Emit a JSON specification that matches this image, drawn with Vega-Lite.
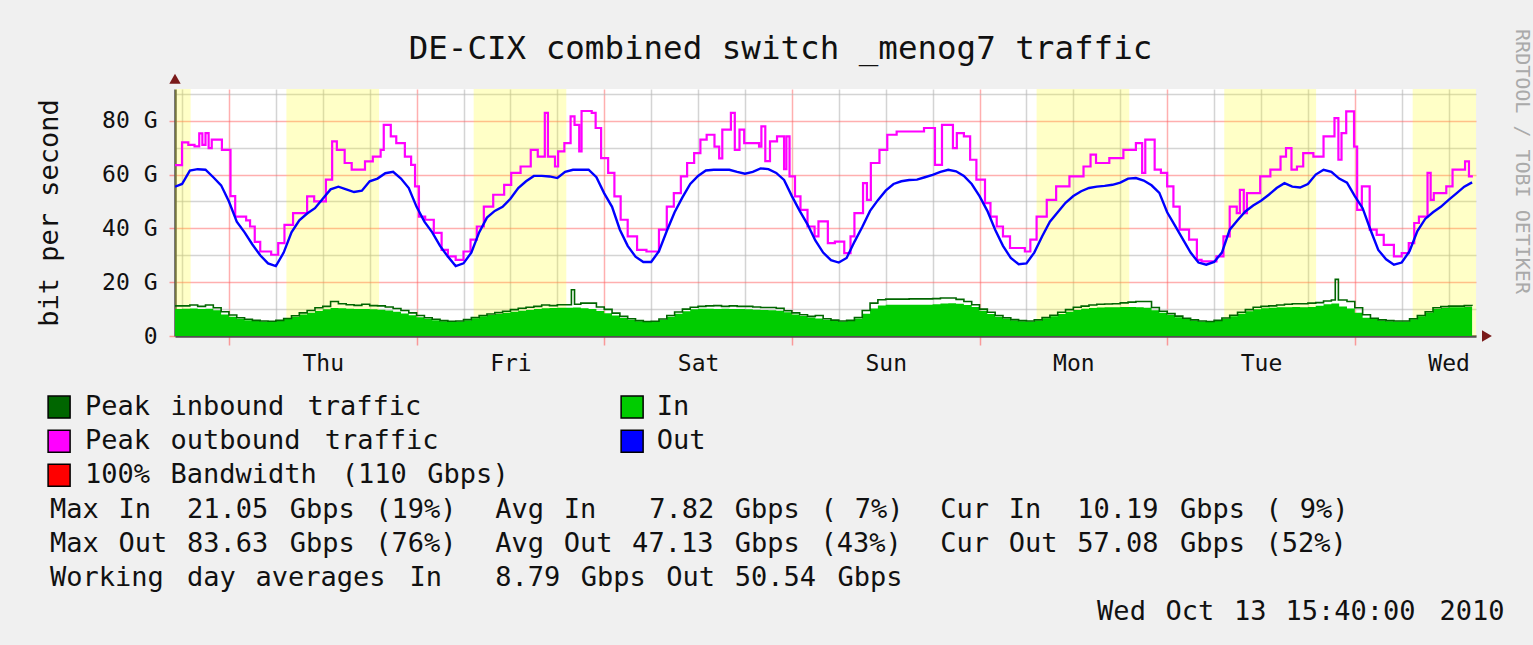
{
  "$schema": "https://vega.github.io/schema/vega-lite/v6.json",
  "background": "#f0f0f0",
  "padding": {"left": 35, "top": 28, "right": 10, "bottom": 20},
  "config": {"font": "DejaVu Sans Mono", "view": {"stroke": null}},
  "spacing": 15,
  "datasets": {
    "bands": [{"s":-6.9,"e":-4.9},{"s":7.35,"e":19.2},{"s":31.3,"e":43.15},{"s":103.3,"e":115.15},{"s":127.3,"e":139.05},{"s":151.4,"e":159.5}],
    "inb": [{"t":-6.9,"v":10.0},{"t":-6,"v":10.1},{"t":-5,"v":10.2},{"t":-4,"v":10.0},{"t":-3,"v":10.1},{"t":-2,"v":9.6},{"t":-1,"v":8.0},{"t":0,"v":7.2},{"t":1,"v":6.4},{"t":2,"v":5.9},{"t":3,"v":5.6},{"t":4,"v":5.4},{"t":5,"v":5.3},{"t":6,"v":5.6},{"t":7,"v":6.3},{"t":8,"v":7.2},{"t":9,"v":8.0},{"t":10,"v":8.6},{"t":11,"v":9.3},{"t":12,"v":9.9},{"t":13,"v":10.4},{"t":14,"v":10.3},{"t":15,"v":10.1},{"t":16,"v":10.0},{"t":17,"v":10.0},{"t":18,"v":9.9},{"t":19,"v":9.8},{"t":20,"v":9.5},{"t":21,"v":9.0},{"t":22,"v":8.4},{"t":23,"v":7.7},{"t":24,"v":7.0},{"t":25,"v":6.4},{"t":26,"v":5.9},{"t":27,"v":5.5},{"t":28,"v":5.3},{"t":29,"v":5.4},{"t":30,"v":5.9},{"t":31,"v":6.6},{"t":32,"v":7.3},{"t":33,"v":7.8},{"t":34,"v":8.2},{"t":35,"v":8.6},{"t":36,"v":9.0},{"t":37,"v":9.4},{"t":38,"v":9.7},{"t":39,"v":10.0},{"t":40,"v":10.3},{"t":41,"v":10.4},{"t":42,"v":10.5},{"t":43,"v":10.5},{"t":44,"v":10.6},{"t":45,"v":10.3},{"t":46,"v":10.0},{"t":47,"v":9.3},{"t":48,"v":8.5},{"t":49,"v":7.6},{"t":50,"v":6.7},{"t":51,"v":6.0},{"t":52,"v":5.5},{"t":53,"v":5.2},{"t":54,"v":5.3},{"t":55,"v":6.0},{"t":56,"v":7.2},{"t":57,"v":8.3},{"t":58,"v":9.2},{"t":59,"v":9.9},{"t":60,"v":10.1},{"t":61,"v":10.1},{"t":62,"v":10.0},{"t":63,"v":10.1},{"t":64,"v":10.0},{"t":65,"v":10.0},{"t":66,"v":9.9},{"t":67,"v":9.8},{"t":68,"v":9.7},{"t":69,"v":9.6},{"t":70,"v":9.4},{"t":71,"v":8.8},{"t":72,"v":8.0},{"t":73,"v":7.4},{"t":74,"v":6.9},{"t":75,"v":6.5},{"t":76,"v":6.0},{"t":77,"v":5.6},{"t":78,"v":5.4},{"t":79,"v":5.6},{"t":80,"v":6.5},{"t":81,"v":8.3},{"t":82,"v":10.2},{"t":83,"v":11.3},{"t":84,"v":11.6},{"t":85,"v":11.6},{"t":86,"v":11.6},{"t":87,"v":11.6},{"t":88,"v":11.6},{"t":89,"v":11.6},{"t":90,"v":11.8},{"t":91,"v":12.1},{"t":92,"v":12.2},{"t":93,"v":12.0},{"t":94,"v":11.5},{"t":95,"v":10.8},{"t":96,"v":9.4},{"t":97,"v":8.2},{"t":98,"v":7.2},{"t":99,"v":6.5},{"t":100,"v":5.9},{"t":101,"v":5.5},{"t":102,"v":5.4},{"t":103,"v":5.8},{"t":104,"v":6.6},{"t":105,"v":7.3},{"t":106,"v":8.2},{"t":107,"v":9.0},{"t":108,"v":9.7},{"t":109,"v":10.1},{"t":110,"v":10.4},{"t":111,"v":10.6},{"t":112,"v":10.7},{"t":113,"v":10.7},{"t":114,"v":10.8},{"t":115,"v":10.8},{"t":116,"v":10.7},{"t":117,"v":10.5},{"t":118,"v":9.6},{"t":119,"v":8.6},{"t":120,"v":7.8},{"t":121,"v":7.0},{"t":122,"v":6.3},{"t":123,"v":5.8},{"t":124,"v":5.4},{"t":125,"v":5.2},{"t":126,"v":5.6},{"t":127,"v":6.4},{"t":128,"v":7.3},{"t":129,"v":8.3},{"t":130,"v":9.2},{"t":131,"v":9.9},{"t":132,"v":10.3},{"t":133,"v":10.5},{"t":134,"v":10.7},{"t":135,"v":10.7},{"t":136,"v":10.8},{"t":137,"v":10.7},{"t":138,"v":10.8},{"t":139,"v":11.2},{"t":140,"v":11.8},{"t":141,"v":12.1},{"t":142,"v":11.0},{"t":143,"v":10.2},{"t":144,"v":8.6},{"t":145,"v":6.8},{"t":146,"v":6.3},{"t":147,"v":5.8},{"t":148,"v":5.5},{"t":149,"v":5.4},{"t":150,"v":5.4},{"t":151,"v":6.2},{"t":152,"v":7.3},{"t":153,"v":8.7},{"t":154,"v":10.0},{"t":155,"v":10.4},{"t":156,"v":10.7},{"t":157,"v":10.7},{"t":158,"v":10.8},{"t":159,"v":10.2}],
    "pin": [{"t":-6.9,"v":11.2},{"t":-6,"v":11.2},{"t":-5,"v":11.5},{"t":-4,"v":11.0},{"t":-3,"v":11.5},{"t":-2,"v":10.5},{"t":-1,"v":9.0},{"t":0,"v":7.8},{"t":1,"v":6.8},{"t":2,"v":6.2},{"t":3,"v":5.8},{"t":4,"v":5.6},{"t":5,"v":5.5},{"t":6,"v":5.8},{"t":7,"v":6.5},{"t":8,"v":7.5},{"t":9,"v":8.6},{"t":10,"v":9.5},{"t":11,"v":10.5},{"t":12,"v":11.0},{"t":13,"v":12.8},{"t":14,"v":12.0},{"t":15,"v":11.6},{"t":16,"v":11.4},{"t":17,"v":11.8},{"t":18,"v":11.3},{"t":19,"v":11.2},{"t":20,"v":10.8},{"t":21,"v":10.2},{"t":22,"v":9.5},{"t":23,"v":8.6},{"t":24,"v":7.6},{"t":25,"v":6.8},{"t":26,"v":6.2},{"t":27,"v":5.7},{"t":28,"v":5.5},{"t":29,"v":5.6},{"t":30,"v":6.1},{"t":31,"v":6.9},{"t":32,"v":7.6},{"t":33,"v":8.2},{"t":34,"v":8.7},{"t":35,"v":9.2},{"t":36,"v":9.8},{"t":37,"v":10.3},{"t":38,"v":10.7},{"t":39,"v":11.0},{"t":40,"v":11.5},{"t":41,"v":11.3},{"t":42,"v":11.6},{"t":43,"v":11.6},{"t":43.8,"v":17.2},{"t":44.2,"v":11.8},{"t":45,"v":12.2},{"t":46,"v":12.2},{"t":47,"v":10.8},{"t":48,"v":9.9},{"t":49,"v":8.5},{"t":50,"v":7.3},{"t":51,"v":6.4},{"t":52,"v":5.7},{"t":53,"v":5.4},{"t":54,"v":5.5},{"t":55,"v":6.3},{"t":56,"v":7.6},{"t":57,"v":8.9},{"t":58,"v":10.0},{"t":59,"v":10.7},{"t":60,"v":11.0},{"t":61,"v":11.2},{"t":62,"v":11.3},{"t":63,"v":11.0},{"t":64,"v":11.2},{"t":65,"v":11.0},{"t":66,"v":11.0},{"t":67,"v":10.8},{"t":68,"v":10.6},{"t":69,"v":10.6},{"t":70,"v":10.3},{"t":71,"v":9.4},{"t":72,"v":8.6},{"t":73,"v":7.9},{"t":74,"v":7.3},{"t":75,"v":7.6},{"t":76,"v":6.4},{"t":77,"v":5.9},{"t":78,"v":5.6},{"t":79,"v":5.8},{"t":80,"v":6.9},{"t":81,"v":9.5},{"t":82,"v":12.2},{"t":83,"v":13.5},{"t":84,"v":13.7},{"t":85,"v":13.7},{"t":86,"v":13.7},{"t":87,"v":13.8},{"t":88,"v":13.8},{"t":89,"v":13.8},{"t":90,"v":13.9},{"t":91,"v":14.1},{"t":92,"v":14.1},{"t":93,"v":13.6},{"t":94,"v":12.8},{"t":95,"v":11.6},{"t":96,"v":10.0},{"t":97,"v":8.8},{"t":98,"v":7.6},{"t":99,"v":6.8},{"t":100,"v":6.1},{"t":101,"v":5.7},{"t":102,"v":5.6},{"t":103,"v":6.0},{"t":104,"v":6.9},{"t":105,"v":7.7},{"t":106,"v":8.8},{"t":107,"v":9.8},{"t":108,"v":10.7},{"t":109,"v":11.1},{"t":110,"v":11.5},{"t":111,"v":11.8},{"t":112,"v":11.9},{"t":113,"v":12.0},{"t":114,"v":12.3},{"t":115,"v":12.6},{"t":116,"v":12.8},{"t":117,"v":12.8},{"t":118,"v":10.6},{"t":119,"v":9.2},{"t":120,"v":8.3},{"t":121,"v":7.4},{"t":122,"v":6.6},{"t":123,"v":6.0},{"t":124,"v":5.6},{"t":125,"v":5.4},{"t":126,"v":5.8},{"t":127,"v":6.7},{"t":128,"v":7.7},{"t":129,"v":8.8},{"t":130,"v":9.8},{"t":131,"v":10.7},{"t":132,"v":11.0},{"t":133,"v":11.2},{"t":134,"v":11.5},{"t":135,"v":11.8},{"t":136,"v":12.0},{"t":137,"v":12.0},{"t":138,"v":12.2},{"t":139,"v":12.4},{"t":140,"v":13.0},{"t":141,"v":13.4},{"t":141.5,"v":21.05},{"t":141.9,"v":13.4},{"t":143,"v":12.8},{"t":144,"v":10.5},{"t":145,"v":7.9},{"t":146,"v":6.6},{"t":147,"v":6.0},{"t":148,"v":5.7},{"t":149,"v":5.6},{"t":150,"v":5.6},{"t":151,"v":6.4},{"t":152,"v":7.6},{"t":153,"v":9.0},{"t":154,"v":10.5},{"t":155,"v":10.9},{"t":156,"v":11.1},{"t":157,"v":11.1},{"t":158,"v":11.3},{"t":159,"v":11.2}],
    "pout": [{"t":-6.9,"v":63.5},{"t":-6.0,"v":72},{"t":-5.2,"v":71},{"t":-4.4,"v":70.5},{"t":-3.8,"v":75.3},{"t":-3.4,"v":71},{"t":-3.0,"v":75.4},{"t":-2.6,"v":69.8},{"t":-2.2,"v":73},{"t":-1.2,"v":73},{"t":-0.9,"v":69.2},{"t":0.2,"v":52},{"t":0.8,"v":44.4},{"t":2.2,"v":43},{"t":2.7,"v":40.7},{"t":3.3,"v":35},{"t":4.0,"v":31.4},{"t":5.4,"v":30.2},{"t":6.3,"v":34.5},{"t":7.1,"v":41.3},{"t":8.2,"v":45.7},{"t":10.0,"v":51.9},{"t":10.9,"v":50},{"t":12.4,"v":58.1},{"t":13.2,"v":72.3},{"t":13.8,"v":69.2},{"t":14.8,"v":64.3},{"t":15.7,"v":61.8},{"t":17.4,"v":64.9},{"t":18.4,"v":66.7},{"t":19.4,"v":69.2},{"t":19.8,"v":78.5},{"t":20.7,"v":74.2},{"t":21.4,"v":71.7},{"t":22.5,"v":66.7},{"t":23.3,"v":63.6},{"t":23.8,"v":55.6},{"t":24.3,"v":44.4},{"t":25.1,"v":43.2},{"t":26.2,"v":38.3},{"t":27.2,"v":32},{"t":28.0,"v":29.6},{"t":29.0,"v":28.3},{"t":30.0,"v":31.4},{"t":30.9,"v":35.8},{"t":31.7,"v":40.7},{"t":32.6,"v":48.1},{"t":33.8,"v":52.5},{"t":35.2,"v":56.2},{"t":36.1,"v":60.6},{"t":37.3,"v":63},{"t":38.6,"v":69.2},{"t":39.5,"v":66.7},{"t":40.4,"v":82.9},{"t":40.8,"v":66.7},{"t":41.7,"v":63},{"t":42.1,"v":68.6},{"t":42.9,"v":71.7},{"t":43.7,"v":81.6},{"t":44.2,"v":78.5},{"t":44.8,"v":68.6},{"t":45.1,"v":83.63},{"t":46.4,"v":82.9},{"t":46.9,"v":77.3},{"t":47.6,"v":66.1},{"t":48.5,"v":60.6},{"t":49.3,"v":51.9},{"t":50.1,"v":43.2},{"t":51.0,"v":37},{"t":52.2,"v":32},{"t":53.4,"v":31.4},{"t":55.0,"v":39.5},{"t":56.0,"v":48.1},{"t":56.9,"v":53.1},{"t":57.8,"v":59.3},{"t":58.6,"v":64.3},{"t":59.5,"v":68},{"t":60.3,"v":73},{"t":61.1,"v":74.8},{"t":62.1,"v":70.4},{"t":62.7,"v":66},{"t":63.1,"v":76.7},{"t":64.2,"v":82.9},{"t":64.7,"v":69.2},{"t":65.3,"v":76.7},{"t":65.9,"v":71.7},{"t":67.8,"v":70.4},{"t":68.1,"v":77.9},{"t":68.6,"v":65},{"t":69.2,"v":72.3},{"t":70.1,"v":74.2},{"t":71.0,"v":62},{"t":71.3,"v":74.2},{"t":71.7,"v":59.3},{"t":72.4,"v":51.9},{"t":73.1,"v":46.9},{"t":74.0,"v":40.7},{"t":74.9,"v":37},{"t":75.4,"v":42.6},{"t":76.6,"v":34.5},{"t":77.5,"v":35.1},{"t":78.7,"v":30.8},{"t":79.5,"v":37},{"t":80.0,"v":45.7},{"t":81.1,"v":56.8},{"t":81.6,"v":50.6},{"t":82.1,"v":64.3},{"t":83.2,"v":69.2},{"t":84.2,"v":74.8},{"t":85.4,"v":76},{"t":88.9,"v":77.3},{"t":90.3,"v":63.6},{"t":91.2,"v":78.5},{"t":92.6,"v":69.8},{"t":93.1,"v":75.4},{"t":94.0,"v":74.2},{"t":94.8,"v":65.5},{"t":95.6,"v":58.1},{"t":96.7,"v":49.4},{"t":97.4,"v":44.4},{"t":98.2,"v":40.7},{"t":99.0,"v":37},{"t":99.9,"v":32.7},{"t":101.8,"v":31.4},{"t":102.5,"v":35.8},{"t":103.3,"v":44.4},{"t":104.6,"v":50.6},{"t":105.8,"v":55.6},{"t":107.5,"v":59.3},{"t":109.3,"v":63},{"t":110.2,"v":67.4},{"t":110.9,"v":64.3},{"t":112.6,"v":66.1},{"t":114.4,"v":69.2},{"t":116.0,"v":71.7},{"t":116.8,"v":60.6},{"t":117.2,"v":73},{"t":118.4,"v":61.8},{"t":119.2,"v":60.6},{"t":120.0,"v":55.6},{"t":120.8,"v":48.1},{"t":121.6,"v":39.5},{"t":122.8,"v":35.8},{"t":123.8,"v":28.3},{"t":124.4,"v":27.7},{"t":126.3,"v":29.6},{"t":127.2,"v":37},{"t":128.0,"v":48.1},{"t":128.9,"v":45.7},{"t":129.3,"v":54.3},{"t":129.8,"v":45.7},{"t":130.2,"v":53.1},{"t":131.9,"v":59.3},{"t":133.2,"v":61.8},{"t":134.5,"v":66.7},{"t":135.2,"v":69.8},{"t":135.9,"v":61.8},{"t":136.6,"v":63},{"t":137.4,"v":68},{"t":138.7,"v":66.7},{"t":140.0,"v":74.2},{"t":141.4,"v":81},{"t":141.9,"v":65.5},{"t":142.3,"v":75.4},{"t":142.9,"v":83.5},{"t":143.9,"v":70.4},{"t":144.3,"v":46.9},{"t":144.9,"v":55.6},{"t":145.9,"v":39.5},{"t":146.8,"v":37.6},{"t":147.7,"v":33.9},{"t":149.0,"v":29.6},{"t":150.0,"v":30.8},{"t":150.9,"v":34.5},{"t":151.6,"v":42},{"t":152.2,"v":44.4},{"t":153.3,"v":60.6},{"t":153.7,"v":50.6},{"t":154.1,"v":53.1},{"t":155.7,"v":55.6},{"t":156.5,"v":61.8},{"t":158.1,"v":64.9},{"t":158.6,"v":59.3},{"t":159.1,"v":59.3}],
    "out": [{"t":-6.9,"v":55.5},{"t":-6,"v":56.5},{"t":-5,"v":61.5},{"t":-4,"v":62},{"t":-3,"v":61.8},{"t":-2,"v":59},{"t":-1,"v":56},{"t":0,"v":50},{"t":1,"v":42.5},{"t":2,"v":38.5},{"t":3,"v":34},{"t":4,"v":30},{"t":5,"v":27},{"t":6,"v":26},{"t":7,"v":31},{"t":8,"v":38.5},{"t":9,"v":43},{"t":10,"v":45.5},{"t":11,"v":47.5},{"t":12,"v":51},{"t":13,"v":54.5},{"t":14,"v":55.5},{"t":15,"v":54.5},{"t":16,"v":53.5},{"t":17,"v":54},{"t":18,"v":57.5},{"t":19,"v":58.5},{"t":20,"v":60.5},{"t":21,"v":61},{"t":22,"v":58.5},{"t":23,"v":55},{"t":24,"v":48},{"t":25,"v":42.5},{"t":26,"v":38.5},{"t":27,"v":33.5},{"t":28,"v":29.5},{"t":29,"v":26},{"t":30,"v":27},{"t":31,"v":31},{"t":32,"v":38.5},{"t":33,"v":44},{"t":34,"v":46.5},{"t":35,"v":48},{"t":36,"v":51},{"t":37,"v":55},{"t":38,"v":57.5},{"t":39,"v":59.5},{"t":40,"v":59.5},{"t":41,"v":59.3},{"t":42,"v":58.7},{"t":43,"v":61},{"t":44,"v":61.8},{"t":45,"v":61.8},{"t":46,"v":61.8},{"t":47,"v":59},{"t":48,"v":53},{"t":49,"v":48},{"t":50,"v":39.5},{"t":51,"v":33.5},{"t":52,"v":29.5},{"t":53,"v":27.5},{"t":54,"v":27.5},{"t":55,"v":31.5},{"t":56,"v":39},{"t":57,"v":46},{"t":58,"v":51.5},{"t":59,"v":56.5},{"t":60,"v":59.5},{"t":61,"v":61.5},{"t":62,"v":61.8},{"t":63,"v":61.8},{"t":64,"v":61.8},{"t":65,"v":61},{"t":66,"v":60.3},{"t":67,"v":61},{"t":68,"v":62.3},{"t":69,"v":62},{"t":70,"v":60.6},{"t":71,"v":58},{"t":72,"v":52},{"t":73,"v":46.5},{"t":74,"v":41.5},{"t":75,"v":35.5},{"t":76,"v":31},{"t":77,"v":28.2},{"t":78,"v":27.3},{"t":79,"v":29},{"t":80,"v":35},{"t":81,"v":40.5},{"t":82,"v":46.5},{"t":83,"v":50.5},{"t":84,"v":54},{"t":85,"v":56.5},{"t":86,"v":57.5},{"t":87,"v":58},{"t":88,"v":58.1},{"t":89,"v":59},{"t":90,"v":59.9},{"t":91,"v":61},{"t":92,"v":61.8},{"t":93,"v":61.2},{"t":94,"v":59.5},{"t":95,"v":56.5},{"t":96,"v":52},{"t":97,"v":46.5},{"t":98,"v":39.5},{"t":99,"v":33.5},{"t":100,"v":29},{"t":101,"v":26.7},{"t":102,"v":27},{"t":103,"v":31},{"t":104,"v":37},{"t":105,"v":42.5},{"t":106,"v":46},{"t":107,"v":49.5},{"t":108,"v":52},{"t":109,"v":53.8},{"t":110,"v":55},{"t":111,"v":55.5},{"t":112,"v":55.8},{"t":113,"v":56.2},{"t":114,"v":57},{"t":115,"v":58.5},{"t":116,"v":58.7},{"t":117,"v":57.8},{"t":118,"v":56},{"t":119,"v":53.2},{"t":120,"v":46},{"t":121,"v":41},{"t":122,"v":36},{"t":123,"v":31},{"t":124,"v":27.3},{"t":125,"v":26.5},{"t":126,"v":27.5},{"t":127,"v":31},{"t":128,"v":39.5},{"t":129,"v":43},{"t":130,"v":46.3},{"t":131,"v":48.5},{"t":132,"v":50.3},{"t":133,"v":52.5},{"t":134,"v":55},{"t":135,"v":56.8},{"t":136,"v":55.5},{"t":137,"v":55.2},{"t":138,"v":56.5},{"t":139,"v":60},{"t":140,"v":61.8},{"t":141,"v":61},{"t":142,"v":58.5},{"t":143,"v":57},{"t":144,"v":52},{"t":145,"v":47.5},{"t":146,"v":39.5},{"t":147,"v":32},{"t":148,"v":28.5},{"t":149,"v":26.5},{"t":150,"v":27.3},{"t":151,"v":31.5},{"t":152,"v":39},{"t":153,"v":43.5},{"t":154,"v":46},{"t":155,"v":48},{"t":156,"v":50.6},{"t":157,"v":53},{"t":158,"v":55.5},{"t":159,"v":57.1}],
    "tokens": [
      {"r":0,"c":2.04,"s":"Peak"},{"r":0,"c":7.04,"s":"inbound"},{"r":0,"c":15.04,"s":"traffic"},{"r":0,"c":35.44,"s":"In"},
      {"r":1,"c":2.04,"s":"Peak"},{"r":1,"c":7.04,"s":"outbound"},{"r":1,"c":16.04,"s":"traffic"},{"r":1,"c":35.44,"s":"Out"},
      {"r":2,"c":2.04,"s":"100%"},{"r":2,"c":7.04,"s":"Bandwidth"},{"r":2,"c":17.04,"s":"(110"},{"r":2,"c":22.04,"s":"Gbps)"},
      {"r":3,"c":0,"s":"Max"},{"r":3,"c":4,"s":"In"},{"r":3,"c":8,"s":"21.05"},{"r":3,"c":14,"s":"Gbps"},{"r":3,"c":19,"s":"(19%)"},{"r":3,"c":26,"s":"Avg"},{"r":3,"c":30,"s":"In"},{"r":3,"c":35,"s":"7.82"},{"r":3,"c":40,"s":"Gbps"},{"r":3,"c":45,"s":"("},{"r":3,"c":47,"s":"7%)"},{"r":3,"c":52,"s":"Cur"},{"r":3,"c":56,"s":"In"},{"r":3,"c":60,"s":"10.19"},{"r":3,"c":66,"s":"Gbps"},{"r":3,"c":71,"s":"("},{"r":3,"c":73,"s":"9%)"},
      {"r":4,"c":0,"s":"Max"},{"r":4,"c":4,"s":"Out"},{"r":4,"c":8,"s":"83.63"},{"r":4,"c":14,"s":"Gbps"},{"r":4,"c":19,"s":"(76%)"},{"r":4,"c":26,"s":"Avg"},{"r":4,"c":30,"s":"Out"},{"r":4,"c":34,"s":"47.13"},{"r":4,"c":40,"s":"Gbps"},{"r":4,"c":45,"s":"(43%)"},{"r":4,"c":52,"s":"Cur"},{"r":4,"c":56,"s":"Out"},{"r":4,"c":60,"s":"57.08"},{"r":4,"c":66,"s":"Gbps"},{"r":4,"c":71,"s":"(52%)"},
      {"r":5,"c":0,"s":"Working"},{"r":5,"c":8,"s":"day"},{"r":5,"c":12,"s":"averages"},{"r":5,"c":21,"s":"In"},{"r":5,"c":26,"s":"8.79"},{"r":5,"c":31,"s":"Gbps"},{"r":5,"c":36,"s":"Out"},{"r":5,"c":40,"s":"50.54"},{"r":5,"c":46,"s":"Gbps"},
      {"r":6,"c":61.16,"s":"Wed"},{"r":6,"c":65.16,"s":"Oct"},{"r":6,"c":69.16,"s":"13"},{"r":6,"c":72.16,"s":"15:40:00"},{"r":6,"c":81.16,"s":"2010"}
    ],
    "swatches": [
      {"r":0,"c":0.53,"k":"Peak inbound traffic"},{"r":1,"c":0.53,"k":"Peak outbound traffic"},{"r":2,"c":0.53,"k":"100% Bandwidth"},{"r":0,"c":34.0,"k":"In"},{"r":1,"c":34.0,"k":"Out"}
    ]
  },
  "vconcat": [
    {
      "width": 1301,
      "height": 247,
      "view": {"fill": "white", "stroke": null},
      "title": {"text": "DE-CIX combined switch _menog7 traffic", "font": "DejaVu Sans Mono", "fontSize": 32.5, "fontWeight": "normal", "color": "#111111", "anchor": "middle", "dx": -45, "offset": -37},
      "resolve": {"axis": {"x": "independent", "y": "independent"}},
      "layer": [
        {
          "data": {"name": "bands"},
          "mark": {"type": "rect", "color": "#ffff00", "opacity": 0.22},
          "encoding": {
            "x": {"field": "s", "type": "quantitative", "scale": {"domain": [-6.9, 159.5], "nice": false, "zero": false}, "axis": null},
            "x2": {"field": "e"}
          }
        },
        {
          "data": {"name": "inb"},
          "mark": {"type": "area", "color": "#00cc00", "interpolate": "step-after", "clip": true},
          "encoding": {
            "x": {"field": "t", "type": "quantitative", "scale": {"domain": [-6.9, 159.5], "nice": false, "zero": false},
              "axis": {"orient": "bottom", "title": null, "values": [0, 24, 48, 72, 96, 120, 144], "labels": false, "grid": true, "gridColor": "#ff5f5f", "gridOpacity": 0.5, "gridWidth": 1.5, "ticks": true, "tickColor": "#ff5f5f", "tickOpacity": 0.6, "tickSize": 9, "tickWidth": 1.5, "domain": true, "domainColor": "#505050", "domainWidth": 2.5}},
            "y": {"field": "v", "type": "quantitative", "scale": {"domain": [0, 91.8], "nice": false},
              "axis": {"orient": "left", "title": "bit per second", "titleFont": "DejaVu Sans Mono", "titleFontSize": 27, "titleFontWeight": "normal", "titleColor": "#111111", "titlePadding": 38, "values": [0, 20, 40, 60, 80], "labelExpr": "datum.value == 0 ? '0' : datum.value + ' G'", "labelFont": "DejaVu Sans Mono", "labelFontSize": 23, "labelColor": "#111111", "labelPadding": 12, "labelFlush": false, "grid": true, "gridColor": "#ff5f5f", "gridOpacity": 0.5, "gridWidth": 1.5, "ticks": true, "tickColor": "#ff5f5f", "tickOpacity": 0.6, "tickSize": 6, "tickWidth": 1.5, "domain": true, "domainColor": "#505050", "domainWidth": 2.5}}
          }
        },
        {
          "data": {"name": "pin"},
          "mark": {"type": "line", "color": "#006600", "strokeWidth": 1.6, "interpolate": "step-after", "clip": true},
          "encoding": {
            "x": {"field": "t", "type": "quantitative", "scale": {"domain": [-6.9, 159.5], "nice": false, "zero": false},
              "axis": {"orient": "bottom", "title": null, "values": [-6, 6, 12, 18, 30, 36, 42, 54, 60, 66, 78, 84, 90, 102, 108, 114, 126, 132, 138, 150, 156], "labels": false, "ticks": false, "domain": false, "grid": true, "gridColor": "#b8b8b8", "gridOpacity": 0.6, "gridWidth": 1.5}},
            "y": {"field": "v", "type": "quantitative", "scale": {"domain": [0, 91.8], "nice": false},
              "axis": {"orient": "left", "title": null, "values": [10, 30, 50, 70, 90], "labels": false, "ticks": false, "domain": false, "grid": true, "gridColor": "#b8b8b8", "gridOpacity": 0.6, "gridWidth": 1.5}}
          }
        },
        {
          "data": {"name": "pout"},
          "mark": {"type": "line", "color": "#ff00ff", "strokeWidth": 2.2, "interpolate": "step-after", "clip": true},
          "encoding": {
            "x": {"field": "t", "type": "quantitative", "scale": {"domain": [-6.9, 159.5], "nice": false, "zero": false},
              "axis": {"orient": "bottom", "title": null, "values": [12, 36, 60, 84, 108, 132, 156], "labelExpr": "['Thu','Fri','Sat','Sun','Mon','Tue','Wed'][floor(datum.value / 24)]", "labelFont": "DejaVu Sans Mono", "labelFontSize": 23, "labelColor": "#111111", "labelPadding": 16, "labelFlush": false, "labelOverlap": false, "labelBound": false, "ticks": false, "domain": false, "grid": false}},
            "y": {"field": "v", "type": "quantitative", "scale": {"domain": [0, 91.8], "nice": false},
              "axis": {"orient": "right", "title": "RRDTOOL / TOBI OETIKER", "titleFont": "DejaVu Sans Mono", "titleFontSize": 20, "titleFontWeight": "normal", "titleColor": "#aaaaaa", "titleAngle": 90, "titleAlign": "center", "titleBaseline": "middle", "titleX": 45, "titleY": 72, "labels": false, "ticks": false, "domain": false, "grid": false}}
          }
        },
        {
          "data": {"name": "out"},
          "mark": {"type": "line", "color": "#0000ff", "strokeWidth": 2.4, "clip": true},
          "encoding": {
            "x": {"field": "t", "type": "quantitative", "scale": {"domain": [-6.9, 159.5], "nice": false, "zero": false}, "axis": null},
            "y": {"field": "v", "type": "quantitative", "scale": {"domain": [0, 91.8], "nice": false}, "axis": null}
          }
        },
        {
          "data": {"values": [{"t": 160.9, "v": 0}]},
          "mark": {"type": "point", "shape": "triangle-right", "filled": true, "color": "#7a1a1a", "opacity": 1, "size": 130},
          "encoding": {
            "x": {"field": "t", "type": "quantitative", "scale": {"domain": [-6.9, 159.5], "nice": false, "zero": false}, "axis": null},
            "y": {"field": "v", "type": "quantitative", "scale": {"domain": [0, 91.8], "nice": false}, "axis": null}
          }
        },
        {
          "data": {"values": [{"t": -6.9, "v": 95.6}]},
          "mark": {"type": "point", "shape": "triangle-up", "filled": true, "color": "#7a1a1a", "opacity": 1, "size": 130},
          "encoding": {
            "x": {"field": "t", "type": "quantitative", "scale": {"domain": [-6.9, 159.5], "nice": false, "zero": false}, "axis": null},
            "y": {"field": "v", "type": "quantitative", "scale": {"domain": [0, 91.8], "nice": false}, "axis": null}
          }
        }
      ]
    },
    {
      "width": 1301,
      "height": 239,
      "view": {"stroke": null},
      "layer": [
        {
          "data": {"name": "swatches"},
          "mark": {"type": "point", "shape": "square", "filled": true, "opacity": 1, "size": 484, "stroke": "#000000", "strokeWidth": 1.5},
          "encoding": {
            "x": {"field": "c", "type": "quantitative", "scale": {"domain": [7.30, 83.29], "nice": false, "zero": false}, "axis": null},
            "y": {"field": "r", "type": "quantitative", "scale": {"domain": [-0.5, 6.5], "nice": false, "zero": false, "reverse": true}, "axis": null},
            "fill": {"field": "k", "type": "nominal", "scale": {"domain": ["Peak inbound traffic", "Peak outbound traffic", "100% Bandwidth", "In", "Out"], "range": ["#006600", "#ff00ff", "#ff0000", "#00cc00", "#0000ff"]}, "legend": null}
          }
        },
        {
          "data": {"name": "tokens"},
          "mark": {"type": "text", "align": "left", "baseline": "middle", "font": "DejaVu Sans Mono", "fontSize": 27, "color": "#111111"},
          "encoding": {
            "x": {"field": "c", "type": "quantitative", "scale": {"domain": [7.30, 83.29], "nice": false, "zero": false}, "axis": null},
            "y": {"field": "r", "type": "quantitative", "scale": {"domain": [-0.5, 6.5], "nice": false, "zero": false, "reverse": true}, "axis": null},
            "text": {"field": "s", "type": "nominal"}
          }
        }
      ]
    }
  ]
}
